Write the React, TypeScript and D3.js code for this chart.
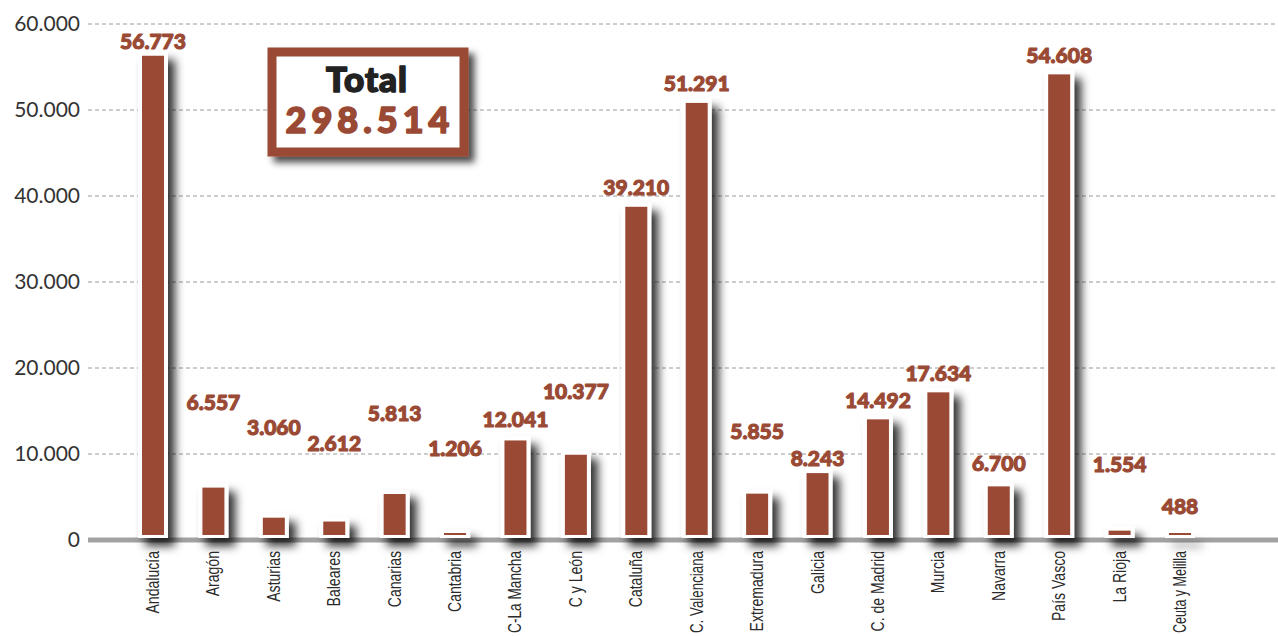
import React, { useLayoutEffect, useRef, useState } from "react";
import * as d3 from "d3";

const categories = [
  "Andalucía", "Aragón", "Asturias", "Baleares", "Canarias", "Cantabria",
  "C-La Mancha", "C y León", "Cataluña", "C. Valenciana", "Extremadura",
  "Galicia", "C. de Madrid", "Murcia", "Navarra", "País Vasco", "La Rioja",
  "Ceuta y Melilla",
];
const values = [
  56773, 6557, 3060, 2612, 5813, 1206, 12041, 10377, 39210, 51291, 5855,
  8243, 14492, 17634, 6700, 54608, 1554, 488,
];
// height (in data units) at which each value label sits in the original
const labelLevels = [
  58000, 16000, 13100, 11250, 14750, 10700, 14050, 17300, 40950, 53050,
  12650, 9500, 16250, 19400, 8950, 56300, 8800, 3950,
];
const yTicks = [0, 10000, 20000, 30000, 40000, 50000, 60000];
const totalTitle = "Total";
const totalValue = 298514;

const W = 1278;
const H = 636;
const BROWN = "#9a4a34";

const locale = d3.formatLocale({
  decimal: ",",
  thousands: ".",
  grouping: [3],
  currency: ["", "€"],
});
const fmt = locale.format(",");

export default function App() {
  const y = d3.scaleLinear().domain([0, 60000]).range([540, 24]);
  const x = d3.scalePoint<string>().domain(categories).range([153, 1180]);
  const innerW = 22;
  const outerW = 30;
  const x0 = 88;
  const heavy = "Lato, 'Open Sans', 'DejaVu Sans', sans-serif";
  const labelRefs = useRef<(SVGTextElement | null)[]>([]);
  const [scales, setScales] = useState<number[]>(categories.map(() => 0.74));

  useLayoutEffect(() => {
    const maxLen = 82;
    const next = categories.map((_, i) => {
      const el = labelRefs.current[i];
      if (!el) return 0.74;
      const len = el.getComputedTextLength();
      return Math.min(0.74, maxLen / len);
    });
    setScales(next);
  }, []);

  return (
    <div style={{ position: "absolute", left: 0, top: 0, width: W, height: H, overflow: "hidden", background: "#fff" }}>
      <svg width={W} height={H} style={{ display: "block" }}>
        <defs>
          <filter id="barShadow" filterUnits="userSpaceOnUse" x={0} y={0} width={W} height={H}>
            <feDropShadow dx={7} dy={8} stdDeviation={5} floodColor="#000" floodOpacity={0.8} />
          </filter>
          <filter id="boxShadow" filterUnits="userSpaceOnUse" x={0} y={0} width={W} height={H}>
            <feDropShadow dx={6} dy={6} stdDeviation={3.5} floodColor="#000" floodOpacity={0.7} />
          </filter>
        </defs>
        <rect width={W} height={H} fill="#fff" />

        {/* grid lines */}
        {yTicks.filter((t) => t > 0).map((t) => (
          <line key={t} x1={x0} x2={W} y1={y(t)} y2={y(t)} stroke="#9a9a9a" strokeWidth={1} strokeDasharray="4 3" />
        ))}
        {/* baseline */}
        <line x1={x0} x2={W} y1={y(0)} y2={y(0)} stroke="#a2a2a2" strokeWidth={5} />

        {/* y tick labels */}
        {yTicks.map((t) => (
          <text key={t} x={80} y={y(t)} dy="0.35em" textAnchor="end" fontFamily="Lato, 'Noto Sans', sans-serif" fontSize={21} fill="#333">
            {fmt(t)}
          </text>
        ))}

        {/* bars */}
        {categories.map((c, i) => {
          const cx = x(c) as number;
          const top = y(values[i]);
          const innerTop = Math.min(top + 4, 533);
          return (
            <g key={c}>
              <rect x={cx - outerW / 2} y={top} width={outerW} height={538 - top} fill="#fff" filter="url(#barShadow)" />
              <rect x={cx - innerW / 2} y={innerTop} width={innerW} height={535 - innerTop} fill={BROWN} />
            </g>
          );
        })}

        {/* value labels */}
        {categories.map((c, i) => (
          <text key={c} x={x(c) as number} y={y(labelLevels[i])} dy="0.36em" textAnchor="middle" fontFamily={heavy} fontWeight={900} fontSize={21} fill={BROWN} stroke={BROWN} strokeWidth={1.1} strokeLinejoin="round">
            {fmt(values[i])}
          </text>
        ))}

        {/* category labels */}
        {categories.map((c, i) => (
          <text
            key={c}
            ref={(el) => { labelRefs.current[i] = el; }}
            transform={`translate(${(x(c) as number) + 6},551) rotate(-90) scale(${scales[i]},1)`}
            textAnchor="end"
            fontFamily="'Liberation Sans', Arial, sans-serif"
            fontSize={19}
            fill="#2b2b2b"
          >
            {c}
          </text>
        ))}

        {/* total box */}
        <rect x={272} y={52} width={192} height={100} fill="#fff" stroke={BROWN} strokeWidth={9} filter="url(#boxShadow)" />
        <text x={367} y={92} textAnchor="middle" fontFamily={heavy} fontWeight={900} fontSize={35} letterSpacing={1} fill="#222" stroke="#222" strokeWidth={1.6} strokeLinejoin="round">
          {totalTitle}
        </text>
        <text x={370} y={133} textAnchor="middle" fontFamily={heavy} fontWeight={900} fontSize={36} letterSpacing={5} fill={BROWN} stroke={BROWN} strokeWidth={1.6} strokeLinejoin="round">
          {fmt(totalValue)}
        </text>
      </svg>
    </div>
  );
}
